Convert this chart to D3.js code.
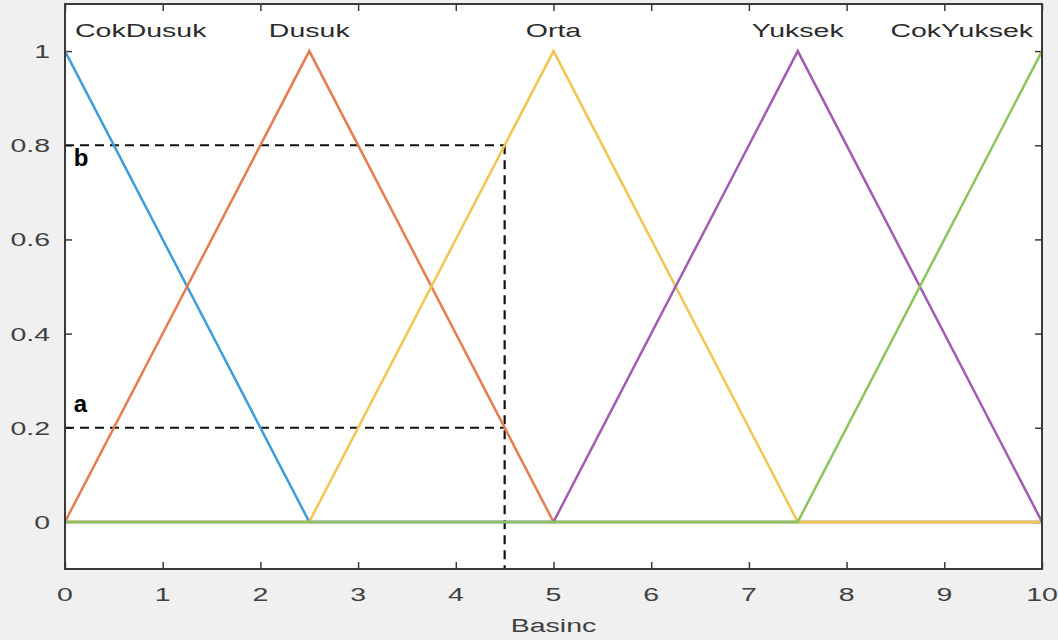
<!DOCTYPE html>
<html>
<head>
<meta charset="utf-8">
<script src="https://cdn.jsdelivr.net/npm/d3@7"></script>
<style>
  body { margin: 0; background: #f0f0f0; }
  text { font-family: "Liberation Sans", Arial, sans-serif; }
</style>
</head>
<body>
<script>
// membership functions (trimf vertices over 0..10)
var mfNames = ["CokDusuk", "Dusuk", "Orta", "Yuksek", "CokYuksek"]
var mfPeaks = [0, 2.5, 5, 7.5, 10]
var mfX = [
  [0, 2.5, 10],
  [0, 2.5, 5, 10],
  [0, 2.5, 5, 7.5, 10],
  [0, 5, 7.5, 10],
  [0, 7.5, 10]
]
var mfY = [
  [1, 0, 0],
  [0, 1, 0, 0],
  [0, 0, 1, 0, 0],
  [0, 0, 1, 0],
  [0, 0, 1]
]
var colors = ["#3f9ddb", "#e77c4e", "#f2c552", "#a25cb2", "#8bc55a"]

var xTicks = [0, 1, 2, 3, 4, 5, 6, 7, 8, 9, 10]
var yTicks = [0, 0.2, 0.4, 0.6, 0.8, 1]

// dashed guide lines: input 4.5 -> a = 0.2, b = 0.8
var inputX = 4.5
var aValue = 0.2
var bValue = 0.8

var width = 1058
var height = 640
var padL = 65, padR = 1042, padT = 4, padB = 569
var stretch = 1.5
var fs = 19

var svg = d3.select("body")
            .append("svg")
            .attr("width", width)
            .attr("height", height)

var xScale = d3.scaleLinear()
               .domain([0, 10])
               .range([padL, padR])

var yScale = d3.scaleLinear()
               .domain([-0.1, 1.1])
               .range([padB, padT])

svg.append("rect")
   .attr("x", padL)
   .attr("y", padT)
   .attr("width", padR - padL)
   .attr("height", padB - padT)
   .attr("fill", "white")

// axes with inner ticks on all sides
var axisColor = "#3a3a3a"
function styleAxis(g) {
  g.select(".domain").remove()
  g.selectAll("line").attr("stroke", axisColor).attr("stroke-width", 1.5)
  g.selectAll("text").remove()
}
svg.append("g").attr("transform", "translate(0," + padB + ")")
   .call(d3.axisBottom(xScale).tickValues(xTicks).tickSize(-7)).call(styleAxis)
svg.append("g").attr("transform", "translate(0," + padT + ")")
   .call(d3.axisTop(xScale).tickValues(xTicks).tickSize(-7)).call(styleAxis)
svg.append("g").attr("transform", "translate(" + padL + ",0)")
   .call(d3.axisLeft(yScale).tickValues(yTicks).tickSize(-7)).call(styleAxis)
svg.append("g").attr("transform", "translate(" + padR + ",0)")
   .call(d3.axisRight(yScale).tickValues(yTicks).tickSize(-7)).call(styleAxis)

// tick labels (the picture is stretched horizontally)
svg.selectAll(".xlab")
   .data(xTicks)
   .enter()
   .append("text")
   .attr("class", "xlab")
   .attr("transform", function(d){ return "translate(" + xScale(d) + ",601) scale(" + stretch + ",1)" })
   .attr("text-anchor", "middle")
   .attr("font-size", fs)
   .attr("fill", "#404040")
   .text(function(d){ return d })

svg.selectAll(".ylab")
   .data(yTicks)
   .enter()
   .append("text")
   .attr("class", "ylab")
   .attr("transform", function(d){ return "translate(50," + (yScale(d) + 7) + ") scale(" + stretch + ",1)" })
   .attr("text-anchor", "end")
   .attr("font-size", fs)
   .attr("fill", "#404040")
   .text(function(d){ return d })

svg.append("text")
   .attr("transform", "translate(" + xScale(5) + ",632) scale(" + stretch + ",1)")
   .attr("text-anchor", "middle")
   .attr("font-size", fs)
   .attr("fill", "#404040")
   .text("Basinc")

// dashed guides
var guide = [
  [[0, bValue], [inputX, bValue]],
  [[0, aValue], [inputX, aValue]],
  [[inputX, bValue], [inputX, -0.1]]
]
svg.selectAll(".guide")
   .data(guide)
   .enter()
   .append("line")
   .attr("class", "guide")
   .attr("x1", function(d){ return xScale(d[0][0]) })
   .attr("y1", function(d){ return yScale(d[0][1]) })
   .attr("x2", function(d){ return xScale(d[1][0]) })
   .attr("y2", function(d){ return yScale(d[1][1]) })
   .attr("stroke", "#111")
   .attr("stroke-width", 2.2)
   .attr("stroke-dasharray", "9,6")

// membership lines
var line = d3.line()
             .x(function(d){ return xScale(d[0]) })
             .y(function(d){ return yScale(d[1]) })

mfNames.forEach(function(name, i){
  var pts = mfX[i].map(function(x, j){ return [x, mfY[i][j]] })
  svg.append("path")
     .attr("d", line(pts))
     .attr("fill", "none")
     .attr("stroke", colors[i])
     .attr("stroke-width", 2.5)
})

svg.append("rect")
   .attr("x", padL)
   .attr("y", padT)
   .attr("width", padR - padL)
   .attr("height", padB - padT)
   .attr("fill", "none")
   .attr("stroke", axisColor)
   .attr("stroke-width", 2)

// membership labels above peaks, kept inside the box
mfNames.forEach(function(name, i){
  var t = svg.append("text")
             .attr("font-size", fs)
             .attr("fill", "#2b2b2b")
             .text(name)
  var w = t.node().getComputedTextLength() * stretch
  var cx = xScale(mfPeaks[i])
  var x0 = Math.max(padL + 10, Math.min(padR - 9 - w, cx - w / 2))
  t.attr("transform", "translate(" + x0 + ",37) scale(" + stretch + ",1)")
})

// annotations a, b
svg.append("text")
   .attr("x", xScale(0.09))
   .attr("y", yScale(0.755))
   .attr("font-family", "Lato, 'Open Sans', sans-serif")
   .attr("font-weight", "bold")
   .attr("font-size", 24)
   .attr("fill", "black")
   .text("b")

svg.append("text")
   .attr("x", xScale(0.09))
   .attr("y", yScale(0.233))
   .attr("font-family", "Lato, 'Open Sans', sans-serif")
   .attr("font-weight", "bold")
   .attr("font-size", 24)
   .attr("fill", "black")
   .text("a")
</script>
</body>
</html>
